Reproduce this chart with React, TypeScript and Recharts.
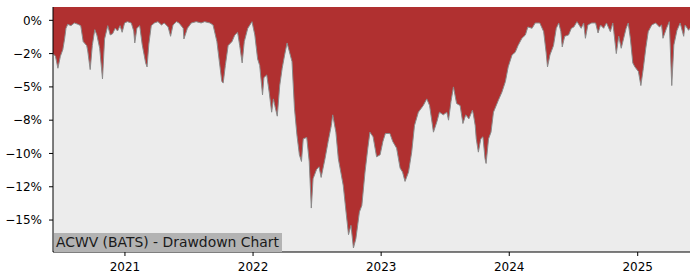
import React from 'react';
import { AreaChart, Area, XAxis, YAxis, CartesianGrid } from 'recharts';

// drawdown series (percent below running peak)
const dates = [
  '2020-06-10', '2020-06-17', '2020-06-24', '2020-07-01', '2020-07-08', '2020-07-13', '2020-07-17', '2020-07-22',
  '2020-07-31', '2020-08-10', '2020-08-20', '2020-08-28', '2020-09-04', '2020-09-14', '2020-09-17', '2020-09-24',
  '2020-09-30', '2020-10-07', '2020-10-13', '2020-10-21', '2020-10-29', '2020-11-04', '2020-11-13', '2020-11-20',
  '2020-11-27', '2020-12-04', '2020-12-11', '2020-12-18', '2020-12-24', '2020-12-31',
  '2021-01-08', '2021-01-19', '2021-01-26', '2021-01-29', '2021-02-04', '2021-02-12', '2021-02-19', '2021-03-01',
  '2021-03-05', '2021-03-10', '2021-03-17', '2021-03-26', '2021-04-05', '2021-04-15', '2021-04-23', '2021-05-04',
  '2021-05-11', '2021-05-18', '2021-05-28', '2021-06-04', '2021-06-16', '2021-06-18', '2021-06-28', '2021-07-09',
  '2021-07-23', '2021-08-06', '2021-08-16', '2021-08-31', '2021-09-09', '2021-09-20', '2021-09-27', '2021-10-04',
  '2021-10-08', '2021-10-14', '2021-10-22', '2021-11-02', '2021-11-10', '2021-11-18', '2021-11-24', '2021-12-01',
  '2021-12-07', '2021-12-17', '2021-12-29',
  '2022-01-06', '2022-01-14', '2022-01-20', '2022-01-28', '2022-02-01', '2022-02-09', '2022-02-16', '2022-02-23',
  '2022-02-28', '2022-03-04', '2022-03-11', '2022-03-18', '2022-03-25', '2022-04-01', '2022-04-08', '2022-04-14',
  '2022-04-22', '2022-04-29', '2022-05-06', '2022-05-13', '2022-05-19', '2022-05-24', '2022-06-03', '2022-06-10',
  '2022-06-16', '2022-06-21', '2022-07-01', '2022-07-08', '2022-07-14', '2022-07-25', '2022-08-03', '2022-08-12',
  '2022-08-16', '2022-08-25', '2022-09-01', '2022-09-08', '2022-09-15', '2022-09-23', '2022-09-30', '2022-10-07',
  '2022-10-14', '2022-10-21', '2022-10-31', '2022-11-07', '2022-11-16', '2022-11-24', '2022-11-30', '2022-12-09',
  '2022-12-19', '2022-12-29',
  '2023-01-06', '2023-01-13', '2023-01-26', '2023-02-03', '2023-02-14', '2023-02-24', '2023-03-03', '2023-03-10',
  '2023-03-20', '2023-03-29', '2023-04-06', '2023-04-17', '2023-05-01', '2023-05-11', '2023-05-19', '2023-05-30',
  '2023-06-09', '2023-06-16', '2023-06-27', '2023-07-07', '2023-07-12', '2023-07-19', '2023-07-26', '2023-08-04',
  '2023-08-14', '2023-08-22', '2023-08-30', '2023-09-08', '2023-09-18', '2023-09-21', '2023-09-26', '2023-09-29',
  '2023-10-05', '2023-10-12', '2023-10-18', '2023-10-24', '2023-10-27', '2023-11-03', '2023-11-10', '2023-11-17',
  '2023-12-01', '2023-12-11', '2023-12-21', '2023-12-29',
  '2024-01-09', '2024-01-18', '2024-01-26', '2024-02-06', '2024-02-16', '2024-02-23', '2024-03-06', '2024-03-15',
  '2024-03-28', '2024-04-08', '2024-04-15', '2024-04-19', '2024-04-26', '2024-05-06', '2024-05-14', '2024-05-21',
  '2024-05-27', '2024-05-31', '2024-06-07', '2024-06-18', '2024-06-26', '2024-07-03', '2024-07-12', '2024-07-24',
  '2024-07-31', '2024-08-05', '2024-08-12', '2024-08-23', '2024-09-03', '2024-09-10', '2024-09-17', '2024-09-26',
  '2024-10-04', '2024-10-15', '2024-10-22', '2024-10-25', '2024-11-01', '2024-11-08', '2024-11-15', '2024-11-22',
  '2024-11-29', '2024-12-05', '2024-12-11', '2024-12-18', '2024-12-24',
  '2025-01-03', '2025-01-10', '2025-01-17', '2025-01-24', '2025-01-31', '2025-02-10', '2025-02-21', '2025-03-04',
  '2025-03-10', '2025-03-14', '2025-03-24', '2025-04-01', '2025-04-08', '2025-04-14', '2025-04-23', '2025-05-02',
  '2025-05-12', '2025-05-16', '2025-05-26', '2025-05-30',
];

const drawdown = [
  -2.5, -2.7, -3.6, -2.7, -2.2, -1.4, -0.6, -0.3,
  -0.4, -0.2, -0.3, -0.4, -1.6, -1.9, -2.3, -3.7,
  -1.9, -0.7, -1.1, -2.1, -4.4, -1.4, -0.4, -1.1,
  -1.0, -0.6, -0.8, -0.4, -0.9, -0.2,
  -0.1, -0.2, -0.8, -1.7, -0.6, -0.4, -1.8, -3.2,
  -3.5, -1.8, -0.4, -0.2, -0.1, -0.35, -0.2, -0.5,
  -1.2, -0.35, -0.1, -0.2, -0.6, -1.4, -0.6, -0.2,
  -0.1, -0.2, -0.1, -0.2, -0.35, -1.6, -3.1, -4.6,
  -4.7, -3.4, -1.9, -1.6, -1.1, -0.9, -1.9, -3.2,
  -1.6, -0.6, -0.1,
  -1.1, -2.9, -3.4, -5.6, -4.3, -4.1, -5.4, -6.9,
  -5.9, -6.4, -7.2, -4.9, -3.6, -2.6, -1.7, -2.3,
  -3.1, -6.6, -8.6, -10.1, -10.6, -8.9, -8.8, -10.6,
  -14.1, -11.9, -11.2, -11.0, -11.8, -10.4, -9.1, -7.9,
  -7.1, -8.4, -10.4, -11.4, -12.4, -14.4, -16.1, -15.4,
  -17.1, -16.4, -14.4, -13.9, -11.4, -9.6, -8.4, -8.75,
  -10.25, -10.1,
  -9.1, -8.5, -8.5, -9.1, -9.6, -11.1, -11.4, -12.1,
  -11.4, -9.9, -7.9, -6.9, -6.4, -5.9, -6.4, -8.4,
  -7.6, -6.9, -7.1, -6.9, -7.5, -6.1, -5.0, -6.25,
  -6.4, -7.75, -7.1, -7.4, -6.75, -7.1, -7.9, -8.9,
  -9.9, -8.9, -8.75, -10.4, -10.75, -8.9, -8.4, -6.9,
  -6.0, -5.4, -4.6, -3.5,
  -2.6, -2.4, -1.9, -1.35, -1.1, -0.5, -0.6, -0.2,
  -0.2, -0.85, -2.4, -3.5, -2.6, -1.9, -0.6, -0.2,
  -0.85, -2.0, -1.2, -1.1, -0.6, -0.5, -0.1, -0.6,
  -0.2, -1.35, -0.35, -0.2, -0.2, -0.95, -0.35, -0.6,
  -0.2, -0.85, -0.2, -0.85, -2.5, -1.2, -2.1, -1.35,
  -0.6, -0.2, -1.35, -3.2, -3.5,
  -3.85, -4.9, -3.6, -2.1, -0.85, -0.35, -0.2, -0.5,
  -0.35, -1.35, -0.6, -0.1, -4.9, -1.85, -0.75, -0.2,
  -1.2, -0.35, -0.75, -0.6,
];

const yearTicks = ['2021-01-01', '2022-01-01', '2023-01-01', '2024-01-01', '2025-01-01'];
const yTicks = [0, -2.5, -5, -7.5, -10, -12.5, -15];
const yTickLabels = ['0%', '\u22122%', '\u22125%', '\u22128%', '\u221210%', '\u221212%', '\u221215%'];
const title = 'ACWV (BATS) - Drawdown Chart';

const data = dates.map((d, i) => ({ t: Date.parse(d), dd: drawdown[i] }));
const xTicks = yearTicks.map((d) => Date.parse(d));
const xDomain = [data[0].t, data[data.length - 1].t];
const yDomain = [-17.4, 1.0];

const tickStyle = { fontFamily: 'DejaVu Sans', fontSize: 12, fill: '#000' };

export default function App() {
  return (
    <div style={{ position: 'absolute', left: 0, top: 0, width: 700, height: 280, background: '#fff' }}>
      <AreaChart width={700} height={280} data={data} margin={{ top: 7, right: 10, bottom: 0, left: 0 }}>
        <CartesianGrid horizontal={false} vertical={false} fill="#ececec" stroke="none" />
        <XAxis
          dataKey="t"
          type="number"
          scale="time"
          domain={xDomain}
          allowDataOverflow
          ticks={xTicks}
          tickFormatter={(v: number) => String(new Date(v).getUTCFullYear())}
          tick={tickStyle}
          tickSize={4}
          tickMargin={6}
          height={28}
          stroke="#000"
          tickLine={{ stroke: '#000' }}
        />
        <XAxis xAxisId="top" dataKey="t" type="number" domain={xDomain} orientation="top" height={0} tick={false} tickLine={false} stroke="#000" />
        <YAxis
          type="number"
          domain={yDomain}
          allowDataOverflow
          ticks={yTicks}
          tickFormatter={(v: number) => yTickLabels[yTicks.indexOf(v)]}
          tick={tickStyle}
          tickSize={4}
          tickMargin={7}
          width={53}
          stroke="#000"
          tickLine={{ stroke: '#000' }}
        />
        <YAxis yAxisId="right" orientation="right" domain={yDomain} width={0} tick={false} tickLine={false} stroke="#000" />
        <Area
          dataKey="dd"
          type="linear"
          baseValue={1.0}
          fill="#b03030"
          fillOpacity={1}
          stroke="#8a8a8a"
          strokeWidth={1}
          isAnimationActive={false}
          dot={false}
          activeDot={false}
        />
      </AreaChart>
      <div
        style={{
          position: 'absolute',
          left: 54,
          top: 233,
          width: 228,
          height: 18.5,
          background: '#b3b3b3',
          fontFamily: 'DejaVu Sans',
          fontSize: 13.9,
          lineHeight: '19px',
          color: '#1a1a1a',
          paddingLeft: 2,
          boxSizing: 'border-box',
          whiteSpace: 'nowrap',
          overflow: 'hidden',
        }}
      >
        {title}
      </div>
    </div>
  );
}
